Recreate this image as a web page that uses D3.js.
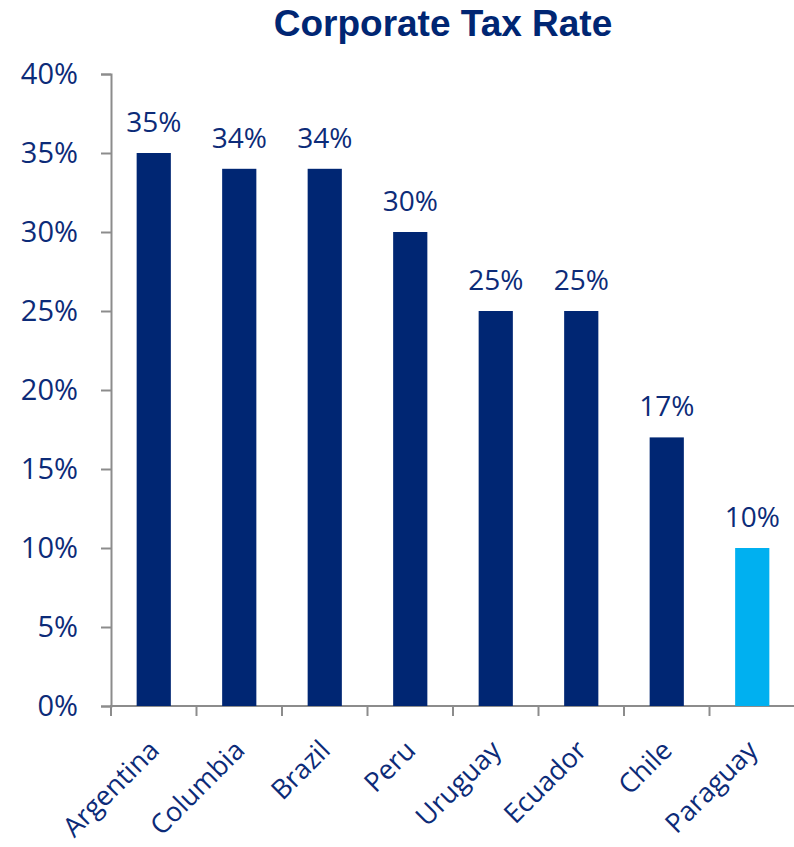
<!DOCTYPE html>
<html>
<head>
<meta charset="utf-8">
<script src="https://cdn.jsdelivr.net/npm/d3@7/dist/d3.min.js"></script>
<style>
  html, body { margin: 0; padding: 0; background: #fff; }
  svg { display: block; }
</style>
</head>
<body>
<svg id="chart" width="794" height="847"></svg>
<script>
// Corporate tax rates by country
const countries = ["Argentina", "Columbia", "Brazil", "Peru", "Uruguay", "Ecuador", "Chile", "Paraguay"];
const rates = [0.35, 0.34, 0.34, 0.30, 0.25, 0.25, 0.17, 0.10];
const highlighted = ["Paraguay"];
const yTicks = [0, 0.05, 0.10, 0.15, 0.20, 0.25, 0.30, 0.35, 0.40];
const titleText = "Corporate Tax Rate";

const navy = "#002673";
const light = "#00B0F0";
const textColor = "#0c2b78";
const axisColor = "#8c8c8c";
const labelFont = "'Open Sans', 'Segoe UI', sans-serif";

const svg = d3.select("#chart");
const plot = { left: 111, right: 795, top: 74, bottom: 706 };

const x = d3.scaleBand()
  .domain(countries)
  .range([plot.left, plot.right])
  .paddingInner(0.6)
  .paddingOuter(0.3);

const y = d3.scaleLinear()
  .domain([0, 0.4])
  .range([plot.bottom, plot.top]);

// Title
svg.append("text")
  .attr("x", 443)
  .attr("y", 36)
  .attr("text-anchor", "middle")
  .attr("font-family", "'Liberation Sans', Arial, sans-serif")
  .attr("font-weight", "bold")
  .attr("font-size", 37)
  .attr("fill", navy)
  .text(titleText);

// Y axis
const yAxis = svg.append("g")
  .attr("transform", `translate(${plot.left},0)`)
  .call(d3.axisLeft(y).tickValues(yTicks).tickFormat(d3.format(".0%")).tickSize(10).tickPadding(23));
yAxis.select(".domain").attr("stroke", axisColor).attr("stroke-width", 2);
yAxis.selectAll(".tick line").attr("stroke", axisColor).attr("stroke-width", 2);
yAxis.selectAll(".tick text")
  .attr("font-family", labelFont)
  .attr("font-size", 29)
  .attr("fill", textColor);

// X axis: ticks fall on the category boundaries
const step = x.step();
const firstEdge = x(countries[0]) - (step - x.bandwidth()) / 2;
const boundaries = d3.range(countries.length + 1).map(i => firstEdge + i * step);
const xg = svg.append("g");
xg.append("line")
  .attr("x1", plot.left - 1).attr("x2", plot.right)
  .attr("y1", plot.bottom).attr("y2", plot.bottom)
  .attr("stroke", axisColor).attr("stroke-width", 2);
xg.selectAll("line.tick")
  .data(boundaries)
  .join("line")
  .attr("class", "tick")
  .attr("x1", d => d).attr("x2", d => d)
  .attr("y1", plot.bottom).attr("y2", plot.bottom + 10)
  .attr("stroke", axisColor).attr("stroke-width", 2);

// Category labels, rotated
xg.selectAll("text.cat")
  .data(countries)
  .join("text")
  .attr("class", "cat")
  .attr("transform", d => `translate(${x(d) + x.bandwidth() / 2 + 7},${plot.bottom + 46}) rotate(-45)`)
  .attr("text-anchor", "end")
  .attr("font-family", labelFont)
  .attr("font-size", 27)
  .attr("fill", textColor)
  .text(d => d);

// Bars
const data = countries.map((c, i) => ({ country: c, rate: rates[i] }));
svg.selectAll("rect.bar")
  .data(data)
  .join("rect")
  .attr("class", "bar")
  .attr("x", d => x(d.country))
  .attr("width", x.bandwidth())
  .attr("y", d => y(d.rate))
  .attr("height", d => y(0) - y(d.rate))
  .attr("fill", d => highlighted.includes(d.country) ? light : navy);

// Value labels
svg.selectAll("text.val")
  .data(data)
  .join("text")
  .attr("class", "val")
  .attr("x", d => x(d.country) + x.bandwidth() / 2)
  .attr("y", d => y(d.rate) - 21)
  .attr("text-anchor", "middle")
  .attr("font-family", labelFont)
  .attr("font-size", 28)
  .attr("fill", textColor)
  .text(d => d3.format(".0%")(d.rate));
</script>
</body>
</html>
